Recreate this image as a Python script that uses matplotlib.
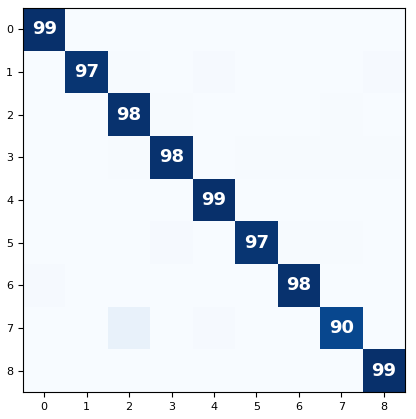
import numpy as np
import matplotlib
matplotlib.use("Agg")
import matplotlib.pyplot as plt

labels = [str(i) for i in range(9)]
row0 = [99, 0.2, 0.2, 0.1, 0.1, 0.1, 0.2, 0.1, 0.0]
row1 = [0.0, 97, 0.5, 0.3, 0.8, 0.2, 0.2, 0.3, 0.8]
row2 = [0.2, 0.3, 98, 0.5, 0.1, 0.1, 0.2, 0.4, 0.2]
row3 = [0.1, 0.1, 0.4, 98, 0.1, 0.5, 0.4, 0.6, 0.4]
row4 = [0.1, 0.2, 0.1, 0.1, 99, 0.1, 0.2, 0.1, 0.1]
row5 = [0.2, 0.1, 0.1, 1.0, 0.1, 97, 0.7, 0.6, 0.2]
row6 = [0.8, 0.1, 0.2, 0.0, 0.2, 0.3, 98, 0.0, 0.1]
row7 = [0.1, 0.2, 7.0, 0.3, 0.9, 0.1, 0.0, 90, 0.2]
row8 = [0.0, 0.1, 0.1, 0.2, 0.1, 0.1, 0.0, 0.1, 99]

cm = np.array([row0, row1, row2, row3, row4, row5, row6, row7, row8])

fig = plt.figure(figsize=(4.16, 4.19), dpi=100)
ax = fig.add_axes([23/416, 27/419, 382/416, 384/419])
ax.imshow(cm, cmap="Blues", interpolation="nearest", aspect="auto")
for i in range(cm.shape[0]):
    for j in range(cm.shape[1]):
        if cm[i, j] >= 50:
            ax.text(j, i, f"{cm[i, j]:.0f}", ha="center", va="center",
                    color="white", fontsize=13, fontweight="bold")
ax.set_xticks(range(9))
ax.set_yticks(range(9))
ax.set_xticklabels(labels)
ax.set_yticklabels(labels)
ax.tick_params(labelsize=8)
fig.savefig("out.png", dpi=100)
